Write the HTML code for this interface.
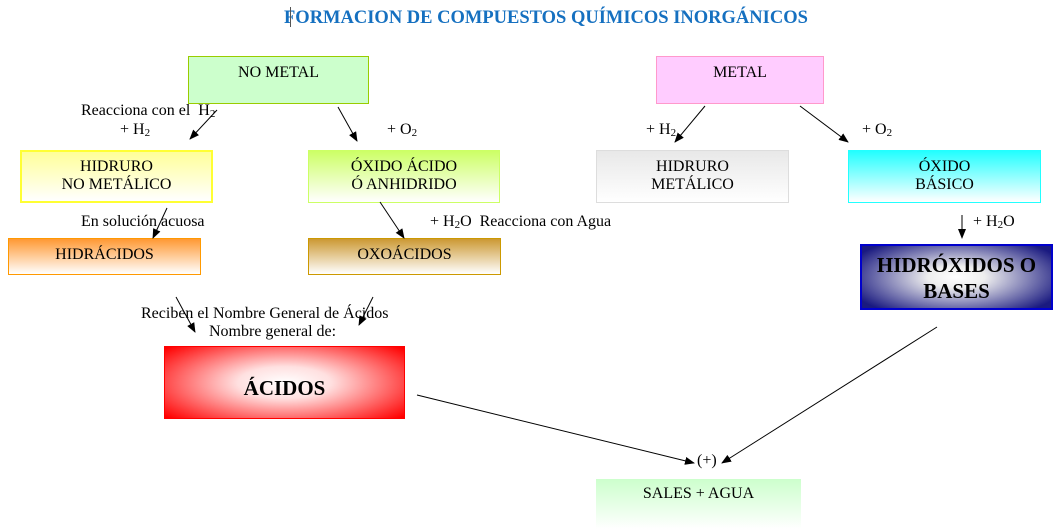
<!DOCTYPE html>
<html><head><meta charset="utf-8"><style>
body{margin:0;width:1062px;height:523px;background:#fff;position:relative;overflow:hidden;font-family:"Liberation Serif",serif;font-size:16px;color:#000}
.b{position:absolute;box-sizing:border-box;text-align:center;line-height:18px}
.t{position:absolute;white-space:nowrap;line-height:16px}
sub{font-size:11px;vertical-align:-2px;line-height:0}
</style></head><body>
<div class="t" style="left:284px;top:8px;font-weight:bold;font-size:18.5px;color:#1570c0;line-height:20px">FORMACION DE COMPUESTOS QUÍMICOS INORGÁNICOS</div>
<div style="position:absolute;left:290px;top:7px;width:1px;height:20px;background:#555"></div>

<div class="b" style="left:188px;top:56px;width:181px;height:48px;background:#ccffcc;border:1px solid #99cc00;padding-top:7px">NO METAL</div>
<div class="b" style="left:656px;top:56px;width:168px;height:48px;background:#ffccff;border:1px solid #ff99cc;padding-top:7px">METAL</div>

<div class="b" style="left:20px;top:150px;width:193px;height:53px;background:linear-gradient(#ffff99,#fff);border:2px solid #ffff33;padding-top:6px">HIDRURO<br>NO METÁLICO</div>
<div class="b" style="left:308px;top:150px;width:192px;height:53px;background:linear-gradient(#ccff66,#fff);border:1px solid #ccff66;padding-top:7px">ÓXIDO ÁCIDO<br>Ó ANHIDRIDO</div>
<div class="b" style="left:596px;top:150px;width:193px;height:53px;background:linear-gradient(#e8e8e8,#fff);border:1px solid #ddd;padding-top:7px">HIDRURO<br>METÁLICO</div>
<div class="b" style="left:848px;top:150px;width:193px;height:53px;background:linear-gradient(#22ffff,#fff);border:1px solid #22ffff;padding-top:7px">ÓXIDO<br>BÁSICO</div>

<div class="b" style="left:8px;top:238px;width:193px;height:37px;background:linear-gradient(#ff9933,#fff);border:1px solid #ff9900;padding-top:7px">HIDRÁCIDOS</div>
<div class="b" style="left:308px;top:238px;width:193px;height:37px;background:linear-gradient(#cc9933,#fff);border:1px solid #cc9900;padding-top:7px">OXOÁCIDOS</div>

<div class="b" style="left:860px;top:244px;width:193px;height:66px;background:radial-gradient(ellipse 60% 70% at 50% 50%,#fff,#eee 25%,#1a1a80 100%);border:2px solid #0000cc;font-weight:bold;font-size:21px;line-height:26px;padding-top:6px">HIDRÓXIDOS O<br>BASES</div>

<div class="b" style="left:164px;top:346px;width:241px;height:73px;background:radial-gradient(ellipse 65% 75% at 50% 50%,#fff,#ffe0e0 30%,#ff0000 100%);border:1px solid #ff0000;font-weight:bold;font-size:21px;line-height:26px;padding-top:28px">ÁCIDOS</div>

<div class="b" style="left:596px;top:479px;width:205px;height:50px;background:linear-gradient(#ccffcc,#fff);border:0;padding-top:6px">SALES + AGUA</div>

<div class="t" style="left:81px;top:103px">Reacciona con el&nbsp; H<sub>2</sub></div>
<div class="t" style="left:120px;top:122px">+ H<sub>2</sub></div>
<div class="t" style="left:387px;top:122px">+ O<sub>2</sub></div>
<div class="t" style="left:646px;top:122px">+ H<sub>2</sub></div>
<div class="t" style="left:862px;top:122px">+ O<sub>2</sub></div>
<div class="t" style="left:81px;top:214px">En solución acuosa</div>
<div class="t" style="left:430px;top:214px">+ H<sub>2</sub>O&nbsp; Reacciona con Agua</div>
<div class="t" style="left:973px;top:214px">+ H<sub>2</sub>O</div>
<div class="t" style="left:141px;top:306px">Reciben el Nombre General de Ácidos</div>
<div class="t" style="left:209px;top:324px">Nombre general de:</div>
<div class="t" style="left:697px;top:453px">(+)</div>

<svg width="1062" height="523" style="position:absolute;left:0;top:0">
<defs><marker id="a" markerWidth="10" markerHeight="8" refX="9" refY="4" orient="auto" markerUnits="userSpaceOnUse"><path d="M0,0L10,4L0,8z" fill="#000"/></marker></defs>
<g stroke="#000" stroke-width="1" marker-end="url(#a)">
<line x1="217" y1="110" x2="190" y2="139"/>
<line x1="338" y1="107" x2="357" y2="141"/>
<line x1="705" y1="106" x2="675" y2="142"/>
<line x1="800" y1="106" x2="848" y2="142"/>
<line x1="167" y1="208" x2="153" y2="238"/>
<line x1="380" y1="202" x2="404" y2="238"/>
<line x1="962" y1="215" x2="962" y2="238"/>
<line x1="176" y1="297" x2="195" y2="332"/>
<line x1="373" y1="297" x2="359" y2="325"/>
<line x1="417" y1="395" x2="694" y2="463"/>
<line x1="937" y1="327" x2="722" y2="463"/>
</g></svg>
</body></html>
